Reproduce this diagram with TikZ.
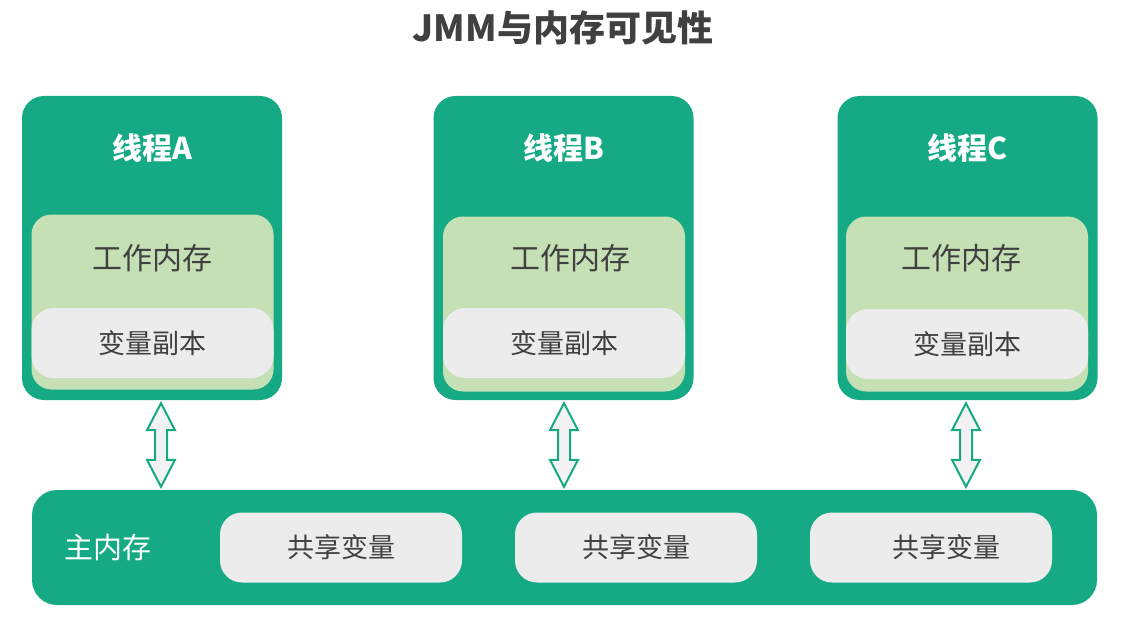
\documentclass[tikz,border=0pt]{standalone}
\usepackage{fontspec}
\setmainfont{Noto Sans CJK SC}
\usepackage{tikz}
\usetikzlibrary{calc}
\definecolor{jmmgreen}{RGB}{21,170,132}
\definecolor{jmmlight}{RGB}{197,224,180}
\definecolor{jmmgray}{RGB}{236,236,236}
\definecolor{jmmarrow}{RGB}{242,242,242}
\definecolor{jmmtext}{RGB}{64,64,64}

\tikzset{
  threadbox/.style={fill=jmmgreen, rounded corners=22pt, minimum width=260pt, minimum height=304pt, inner sep=0pt},
  workbox/.style={fill=jmmlight, rounded corners=20pt, minimum width=242pt, minimum height=175pt, inner sep=0pt},
  copybox/.style={fill=jmmgray, rounded corners=22pt, minimum width=242pt, minimum height=70pt, inner sep=0pt, text=jmmtext, font=\fontsize{27}{31}\selectfont},
  syncarrow/.style={draw=jmmgreen, fill=jmmarrow, line width=2pt, line join=miter}
}
\newcommand{\syncarrow}[2]{%
  \path[syncarrow] let \p1=(#1), \p2=(#2) in
    (\x1,\y1-3pt) -- (\x1+14pt,\y1-30pt) -- (\x1+6pt,\y1-30pt) -- (\x1+6pt,\y2+30pt)
    -- (\x1+14pt,\y2+30pt) -- (\x1,\y2+3pt) -- (\x1-14pt,\y2+30pt) -- (\x1-6pt,\y2+30pt)
    -- (\x1-6pt,\y1-30pt) -- (\x1-14pt,\y1-30pt) -- cycle;}

\begin{document}
\begin{tikzpicture}[x=1pt, y=-1pt]
\useasboundingbox (0,0) rectangle (1133,618);

% Title
\node[text=jmmtext, font=\fontsize{36}{42}\selectfont\bfseries] (title) at (563,28) {JMM与内存可见性};

% Thread A
\node[threadbox] (ta) at (152,248) {};
\node[text=white, font=\fontsize{30}{34}\selectfont\bfseries] (tta) at (152,148) {线程A};
\node[workbox] (wa) at (152.5,302) {};
\node[text=jmmtext, font=\fontsize{30}{34}\selectfont] (wta) at (152.5,258) {工作内存};
\node[copybox] (ca) at (152.5,343) {变量副本};

% Thread B
\node[threadbox] (tb) at (563.5,248) {};
\node[text=white, font=\fontsize{30}{34}\selectfont\bfseries] (ttb) at (564,148) {线程B};
\node[workbox] (wb) at (564,304) {};
\node[text=jmmtext, font=\fontsize{30}{34}\selectfont] (wtb) at (570,258) {工作内存};
\node[copybox] (cb) at (564,343) {变量副本};

% Thread C
\node[threadbox] (tc) at (967.5,248) {};
\node[text=white, font=\fontsize{30}{34}\selectfont\bfseries] (ttc) at (967,148) {线程C};
\node[workbox] (wc) at (967,304) {};
\node[text=jmmtext, font=\fontsize{30}{34}\selectfont] (wtc) at (961,258) {工作内存};
\node[copybox] (cc) at (967,344) {变量副本};

% Main memory
\node[fill=jmmgreen, rounded corners=25pt, minimum width=1065pt, minimum height=115pt, inner sep=0pt] (mm) at (564.5,547.5) {};
\node[text=white, font=\fontsize{29}{34}\selectfont] (mmt) at (108,548) {主内存};
\node[copybox] (sa) at (341,547.5) {共享变量};
\node[copybox] (sb) at (636,547.5) {共享变量};
\node[copybox] (sc) at (931,547.5) {\hspace*{30pt}共享变量};

% Arrows
\syncarrow{$(ta.south)+(9,0)$}{mm.north}
\syncarrow{$(tb.south)+(0.5,0)$}{mm.north}
\syncarrow{$(tc.south)+(-1.5,0)$}{mm.north}
\end{tikzpicture}
\end{document}
